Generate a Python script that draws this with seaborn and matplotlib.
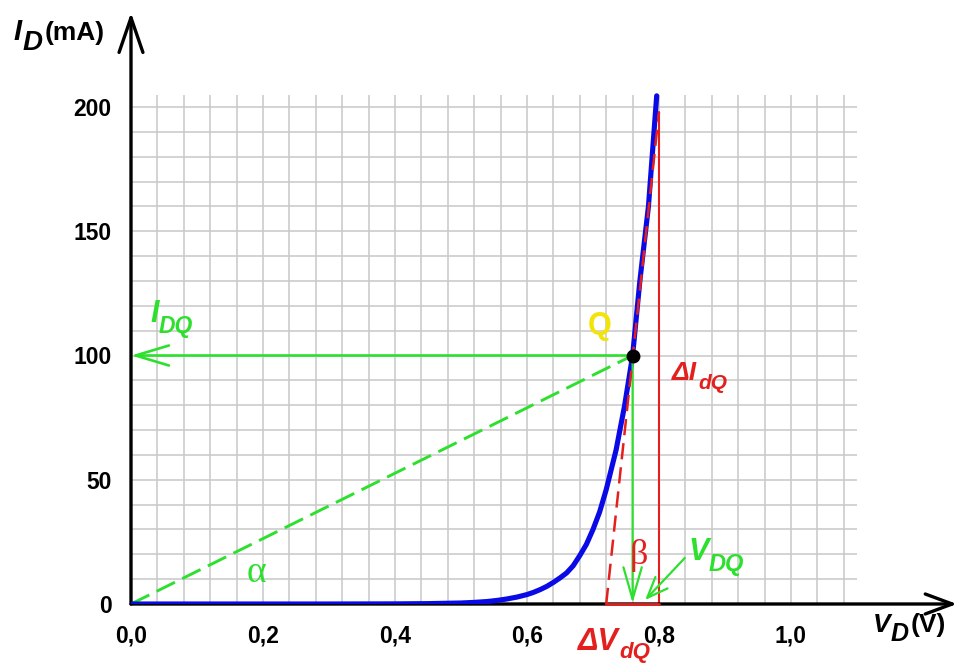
import numpy as np
import pandas as pd
import matplotlib
matplotlib.use("Agg")
import matplotlib.pyplot as plt
import seaborn as sns

# ---------------- data ----------------
V_curve = [0.0, 0.1, 0.2, 0.3, 0.4, 0.45, 0.5, 0.52, 0.54, 0.555, 0.569,
           0.585, 0.6, 0.61, 0.62, 0.63, 0.64, 0.65, 0.66, 0.67, 0.68, 0.69,
           0.70, 0.71, 0.72, 0.735, 0.748, 0.76, 0.771, 0.784, 0.7965]
I_curve = [0.0, 0.0, 0.0, 0.0, 0.05, 0.15, 0.4, 0.65, 1.0, 1.45, 2.0,
           2.8, 3.8, 4.7, 5.8, 7.1, 8.7, 10.5, 12.5, 15.4, 19.5, 24.0,
           30.0, 37.0, 46.0, 62.0, 80.0, 100.0, 130.0, 160.0, 204.5]
Q_V, Q_I = 0.76, 100.0
tangent_V = [0.72, 0.80]
tangent_I = [0.0, 198.0]
deltaI_V = [0.80, 0.80]
deltaI_I = [0.0, 198.0]
deltaV_V = [0.72, 0.80]
deltaV_I = [0.0, 0.0]
vdq_arrow_from = (0.839, 18.5)
vdq_arrow_to = (0.779, 1.6)
x_ticks = [0.0, 0.2, 0.4, 0.6, 0.8, 1.0]
x_tick_labels = ["0,0", "0,2", "0,4", "0,6", "0,8", "1,0"]
y_ticks = [0, 50, 100, 150, 200]
y_tick_labels = ["0", "50", "100", "150", "200"]
grid_x_max, grid_y_max = 1.1, 205
x_arrow_end, y_arrow_end = 1.2515, 238.0

# ---------------- styling ----------------
sns.set_style("white")
plt.rcParams['font.family'] = ['Liberation Sans', 'DejaVu Sans']

GREEN = '#2ee02e'
RED = '#e3201e'
BLUE = '#0a0ae6'
YELLOW = '#f2e40a'
GRID = '#c8c8c8'

W, H = 959, 667
PX_PER_V = 660.0
PX_PER_MA = 2.485
X0, Y0 = 131, 604

fig = plt.figure(figsize=(W / 100, H / 100), dpi=100)
ax = fig.add_axes([X0 / W, (H - Y0) / H, (W - X0) / W, Y0 / H])
ax.set_xlim(0, (W - X0) / PX_PER_V)
ax.set_ylim(0, Y0 / PX_PER_MA)
for s in ax.spines.values():
    s.set_visible(False)
ax.set_facecolor('white')

# grid
gx = np.arange(0.04, 1.0801, 0.04)
gy = np.arange(10, 200.1, 10)
ax.vlines(gx, 0, grid_y_max, colors=GRID, lw=1.1, zorder=0)
ax.hlines(gy, 0, grid_x_max, colors=GRID, lw=1.1, zorder=0)

# ticks
ax.set_xticks(x_ticks)
ax.set_xticklabels(x_tick_labels, fontsize=16.5, fontweight='bold')
ax.set_yticks(y_ticks)
ax.set_yticklabels(y_tick_labels, fontsize=16.5, fontweight='bold')
ax.tick_params(axis='x', direction='out', length=6.5, width=2.3, pad=8, colors='black')
ax.tick_params(axis='y', direction='out', length=6, width=2.3, pad=8, colors='black')

# green construction lines
ax.plot([0, Q_V], [0, Q_I], color=GREEN, lw=2.1, dashes=(7.0, 2.8), zorder=2)
ax.annotate('', xy=(0, Q_I), xytext=(Q_V, Q_I),
            arrowprops=dict(arrowstyle='->,head_length=1.2,head_width=0.36',
                            mutation_scale=20, lw=1.9, color=GREEN,
                            shrinkA=0, shrinkB=0), zorder=2, annotation_clip=False)
ax.annotate('', xy=(Q_V, 0.3), xytext=(Q_V, Q_I),
            arrowprops=dict(arrowstyle='->,head_length=1.15,head_width=0.33',
                            mutation_scale=20, lw=1.6, color=GREEN,
                            shrinkA=0, shrinkB=0), zorder=5, annotation_clip=False)
ax.annotate('', xy=vdq_arrow_to, xytext=vdq_arrow_from,
            arrowprops=dict(arrowstyle='->,head_length=0.75,head_width=0.3',
                            mutation_scale=20, lw=1.6, color=GREEN,
                            shrinkA=0, shrinkB=0), zorder=5, annotation_clip=False)

# red construction lines
ax.plot(deltaI_V, deltaI_I, color=RED, lw=1.5, zorder=3)
ax.plot(deltaV_V, deltaV_I, color=RED, lw=2.0, zorder=6, clip_on=False)

# diode curve
sns.lineplot(x=V_curve, y=I_curve, ax=ax, color=BLUE, linewidth=3.7,
             sort=False, estimator=None, zorder=4, solid_capstyle='round')
ax.plot(tangent_V, tangent_I, color=RED, lw=1.8, dashes=(6.5, 3.2), zorder=5)

# axes arrows
ax.annotate('', xy=(x_arrow_end, 0), xytext=(0, 0),
            arrowprops=dict(arrowstyle='->,head_length=0.97,head_width=0.36',
                            mutation_scale=20, lw=2.4, color='black',
                            shrinkA=0, shrinkB=0), zorder=3, annotation_clip=False)
ax.annotate('', xy=(0, y_arrow_end), xytext=(0, 0),
            arrowprops=dict(arrowstyle='->,head_length=1.25,head_width=0.43',
                            mutation_scale=20, lw=2.4, color='black',
                            shrinkA=0, shrinkB=0), zorder=3, annotation_clip=False)

# Q point
ax.plot([Q_V], [Q_I], marker='o', markersize=9, color='black', zorder=7)

renderer = fig.canvas.get_renderer()


# ---------------- texts (pixel placement) ----------------
def ptext(px, py, s, size, color='black', style='normal', weight='bold', **kw):
    return fig.text(px / W, 1 - py / H, s, fontsize=size, color=color, fontstyle=style,
                    fontweight=weight, ha=kw.pop('ha', 'left'),
                    va=kw.pop('va', 'baseline'), **kw)


def chain(px, py, parts, color='black'):
    """parts: list of (text, size, style, baseline offset px, gap px)"""
    x = px
    for s, size, style, dy, gap in parts:
        x += gap
        t = ptext(x, py + dy, s, size, color=color, style=style)
        bb = t.get_window_extent(renderer)
        x = bb.x1


# axis labels
chain(13, 40, [('I', 21, 'italic', 0, 0), ('D', 20, 'italic', 10, 1),
               ('(mA)', 19, 'normal', 0, 2)])
chain(873, 632, [('V', 19, 'italic', 0, 0), ('D', 18, 'italic', 9, 0),
                 ('(V)', 19, 'normal', 0, 2)])

# green labels
chain(150, 322, [('I', 22, 'italic', 0, 0), ('DQ', 16.5, 'italic', 11, 0)], color=GREEN)
chain(688, 560, [('V', 22, 'italic', 0, 0), ('DQ', 17, 'italic', 11, 0)], color=GREEN)
ptext(256, 573, 'α', 27, color=GREEN, weight='normal', ha='center', va='center',
      family=['Liberation Serif', 'DejaVu Serif'])

# red labels
chain(672, 380, [('ΔI', 19, 'italic', 0, 0), ('dQ', 15, 'italic', 9, 1)], color=RED)
chain(578, 650, [('ΔV', 22, 'italic', 0, 0), ('dQ', 16, 'italic', 8, 0)], color=RED)
ptext(639, 555, 'β', 26, color=RED, weight='normal', ha='center', va='center',
      family=['Liberation Serif', 'DejaVu Serif'])

# Q label
ptext(600, 326, 'Q', 22, color=YELLOW, ha='center', va='center')

fig.savefig('out.png', dpi=100, facecolor='white')
